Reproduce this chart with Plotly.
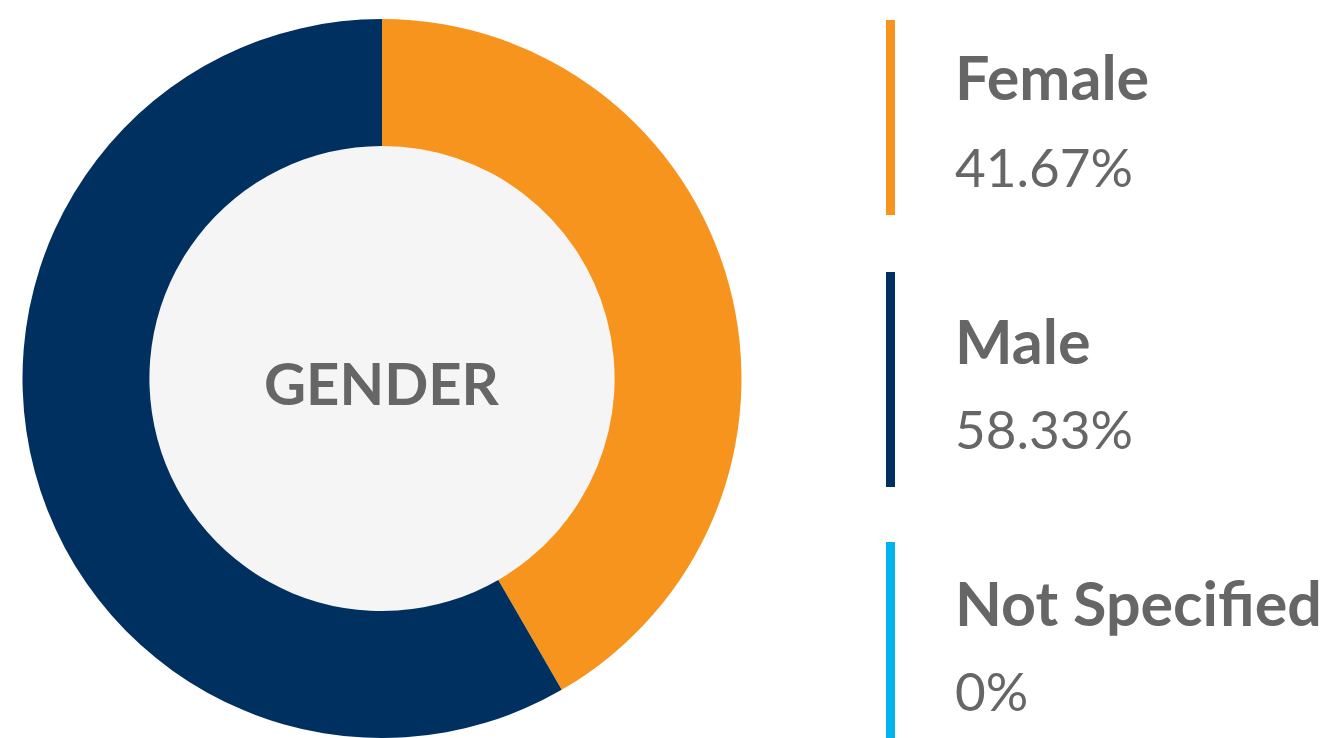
import plotly.graph_objects as go

categories = ["Female", "Male", "Not Specified"]
values = [41.67, 58.33, 0]
pct_labels = ["41.67%", "58.33%", "0%"]
colors = ["#F7941E", "#003060", "#00B5EF"]
center_title = "GENDER"

W, H = 1333, 738
cx, cy, R = 382, 379, 360
hole = 0.647

fig = go.Figure()
fig.add_trace(go.Pie(
    labels=categories, values=values, hole=hole, sort=False,
    direction="clockwise", rotation=0,
    marker=dict(colors=colors, line=dict(width=0)),
    textinfo="none", hoverinfo="label+percent", showlegend=False,
    domain=dict(x=[(cx - R) / W, (cx + R) / W], y=[0, 1 - (cy - R) / H]),
))

# inner fill
ri = R * hole
fig.add_shape(type="circle", xref="paper", yref="paper",
              x0=(cx - ri) / W, x1=(cx + ri) / W,
              y0=1 - (cy + ri) / H, y1=1 - (cy - ri) / H,
              fillcolor="#F5F5F5", line=dict(width=0), layer="below")

fig.add_annotation(x=cx / W, y=1 - 382 / H, xref="paper", yref="paper",
                   text="<b>" + center_title + "</b>", showarrow=False,
                   font=dict(family="Lato", size=58, color="#666666"),
                   xanchor="center", yanchor="middle")

# custom legend
bars = [(20, 215), (272, 487), (542, 738)]
label_y = [77, 340, 602]
pct_y = [166, 428, 690]
for i, cat in enumerate(categories):
    y0, y1 = bars[i]
    fig.add_shape(type="rect", xref="paper", yref="paper",
                  x0=886 / W, x1=895 / W, y0=1 - y1 / H, y1=1 - y0 / H,
                  fillcolor=colors[i], line=dict(width=0))
    fig.add_annotation(x=953 / W, y=1 - label_y[i] / H, xref="paper", yref="paper",
                       text="<b>" + cat + "</b>", showarrow=False,
                       font=dict(family="Lato", size=61, color="#666666"),
                       xanchor="left", yanchor="middle")
    fig.add_annotation(x=953 / W, y=1 - pct_y[i] / H, xref="paper", yref="paper",
                       text=pct_labels[i], showarrow=False,
                       font=dict(family="Lato", size=53, color="#666666"),
                       xanchor="left", yanchor="middle")

fig.update_layout(width=W, height=H, margin=dict(l=0, r=0, t=0, b=0),
                  paper_bgcolor="white", plot_bgcolor="white")
fig.write_html("out.html", config={"displayModeBar": False},
               post_script="document.body.style.margin='0';document.body.style.overflow='hidden';")
